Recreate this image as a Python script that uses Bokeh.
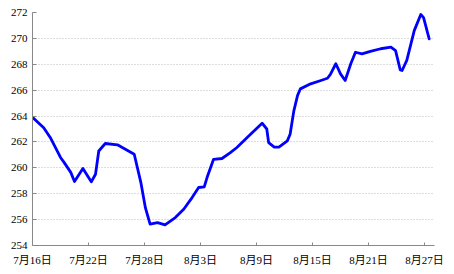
from bokeh.plotting import figure
from bokeh.models import FixedTicker, Range1d
from bokeh.embed import file_html
from bokeh.resources import INLINE

# day offsets from 7月16日 and price values
days = [0, 1.2, 1.9, 3.0, 3.4, 4.1, 4.5, 5.4, 6.3, 6.75, 7.1, 7.8, 9.1, 10.9,
        11.6, 12.1, 12.6, 13.4, 14.2, 15.3, 16.2, 17.1, 17.8, 18.4, 18.7, 19.4,
        20.3, 21.2, 21.9, 23.0, 24.6, 25.1, 25.3, 25.9, 26.4, 27.3, 27.6, 28.0,
        28.4, 28.7, 29.8, 30.9, 31.6, 31.9, 32.5, 33.0, 33.5, 34.1, 34.6, 35.3,
        36.2, 37.3, 38.4, 38.9, 39.4, 39.6, 40.1, 40.9, 41.6, 41.9, 42.5]
values = [263.9, 263.1, 262.35, 260.8, 260.4, 259.65, 258.95, 259.95, 258.92,
          259.5, 261.3, 261.88, 261.78, 261.05, 258.9, 256.9, 255.65, 255.76,
          255.6, 256.16, 256.8, 257.7, 258.48, 258.53, 259.25, 260.66, 260.72,
          261.18, 261.57, 262.34, 263.45, 263.0, 261.95, 261.6, 261.6, 262.08,
          262.6, 264.4, 265.6, 266.1, 266.49, 266.75, 266.92, 267.2, 268.04,
          267.26, 266.75, 268.04, 268.93, 268.8, 268.99, 269.2, 269.32, 269.06,
          267.57, 267.52, 268.3, 270.6, 271.85, 271.6, 269.97]

tick_days = [0, 6, 12, 18, 24, 30, 36, 42]
tick_labels = ["7月16日", "7月22日", "7月28日", "8月3日", "8月9日",
               "8月15日", "8月21日", "8月27日"]
y_ticks = [254, 256, 258, 260, 262, 264, 266, 268, 270, 272]

FONT = "Liberation Serif, Noto Sans CJK SC"

p = figure(width=454, height=274, output_backend="svg", toolbar_location=None,
           x_range=Range1d(0, 43.07), y_range=Range1d(254, 272),
           min_border_left=32, min_border_right=20, min_border_top=12,
           min_border_bottom=29)
p.outline_line_color = None
p.background_fill_color = "white"
p.border_fill_color = "white"

p.line(days, values, line_color="#0000FF", line_width=2.8,
       line_join="round", line_cap="round")

p.xaxis.ticker = FixedTicker(ticks=tick_days)
p.xaxis.major_label_overrides = {d: l for d, l in zip(tick_days, tick_labels)}
p.yaxis.ticker = FixedTicker(ticks=y_ticks)

for ax in (p.xaxis, p.yaxis):
    ax.axis_line_color = "#888888"
    ax.major_tick_line_color = "#888888"
    ax.minor_tick_line_color = None
    ax.major_tick_out = 0
    ax.major_label_text_font = FONT
    ax.major_label_text_font_size = "11px"
    ax.major_label_text_color = "black"
p.xaxis.major_tick_in = 3
p.yaxis.major_tick_in = 4
p.xaxis.major_label_standoff = 8
p.yaxis.major_label_standoff = 5

p.xgrid.grid_line_color = None
p.ygrid.grid_line_color = "#bbbbbb"
p.ygrid.grid_line_dash = "1 2"
p.ygrid.grid_line_width = 1

open("out.html", "w").write(file_html(p, INLINE))
